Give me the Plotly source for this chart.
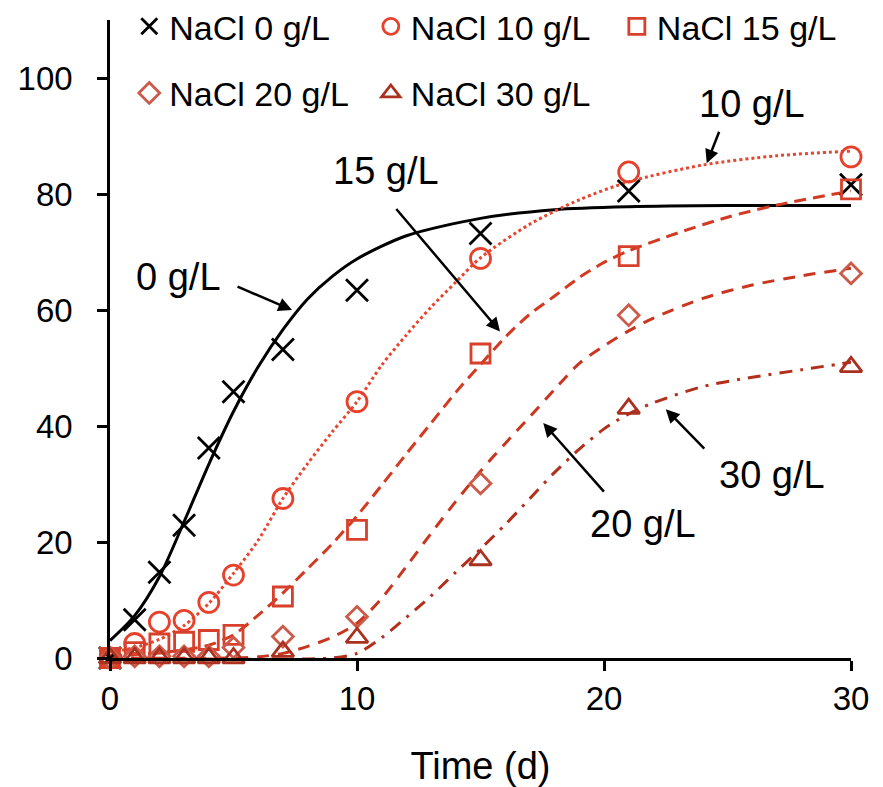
import plotly.graph_objects as go

# Observed data
t_obs = [0, 1, 2, 3, 4, 5, 7, 10, 15, 21, 30]
nacl0 = [0, 6.6, 14.8, 22.9, 36.2, 45.9, 53.2, 63.4, 73.2, 80.5, 81.6]
nacl10 = [0, 2.5, 6.2, 6.5, 9.6, 14.3, 27.5, 44.2, 68.9, 83.8, 86.4]
nacl15 = [0, 1.0, 2.5, 2.8, 3.1, 4.0, 10.6, 22.1, 52.5, 69.3, 80.8]
nacl20 = [0, 0.3, 0.3, 0.3, 0.3, 1.8, 3.7, 7.1, 30.1, 59.1, 66.3]
nacl30 = [0, 0, 0, 0, 0, 0, 1.1, 3.5, 16.9, 43.0, 50.2]

# Fitted curves
fit0_t = [0, 1, 2, 3, 4, 5, 6, 7, 8, 9, 10, 12, 15, 18, 21, 25, 30]
fit0_y = [3, 7.3, 14, 23.5, 33.4, 42.5, 50.2, 56.6, 61.9, 65.8, 68.8, 72.8, 75.8, 77.3, 77.8, 78, 78]

fit10_t = [0, 1, 2, 3, 4, 5, 6, 7, 8, 9, 10, 11, 12, 13, 14, 15, 17, 19, 21, 24, 27, 30]
fit10_y = [1.0, 1.8, 3.2, 5.6, 9.4, 14.6, 20.3, 27.5, 33.5, 39, 44.2, 50.5, 55.7, 60.5, 64.8, 69.0, 74.8, 79.0, 82.1, 85.0, 86.6, 87.4]

fit15_t = [0, 1, 2, 3, 4, 5, 6, 7, 8, 9, 10, 11, 12, 13, 14, 15, 16, 17, 18, 19, 20, 21, 23, 25, 27, 30]
fit15_y = [0.4, 0.6, 0.9, 1.4, 2.2, 4.0, 7.4, 11.2, 15.4, 19.7, 24.5, 29.8, 35.2, 40.5, 45.8, 50.6, 55.3, 59.3, 62.4, 65.6, 68.2, 70.2, 73.3, 76.0, 78.1, 80.5]

fit20_t = [0, 5, 6, 7, 8, 9, 10, 11, 12, 13, 14, 15, 16, 17, 18, 19, 20, 21, 22, 24, 26, 28, 30]
fit20_y = [0, 0, 0.2, 0.8, 2.0, 3.6, 6.0, 10.3, 15.8, 21.5, 27.0, 32.2, 37.0, 41.6, 46.3, 50.8, 53.8, 56.4, 58.6, 62.0, 64.3, 65.9, 67.2]

fit30_t = [0, 9, 10, 11, 12, 13, 14, 15, 16, 17, 18, 19, 20, 21, 22, 24, 26, 28, 30]
fit30_y = [0, 0, 0.8, 3.5, 7.0, 10.7, 14.8, 18.8, 23.0, 27.5, 32.0, 36.0, 39.5, 42.1, 44.0, 46.8, 48.4, 49.7, 51.0]

names = ["NaCl 0 g/L", "NaCl 10 g/L", "NaCl 15 g/L", "NaCl 20 g/L", "NaCl 30 g/L"]
labels = ["0 g/L", "10 g/L", "15 g/L", "20 g/L", "30 g/L"]
x_ticks = [0, 10, 20, 30]
y_ticks = [0, 20, 40, 60, 80, 100]

FONT = "Liberation Sans, Arial, sans-serif"
c0, c10, c15, c20, c30 = "#000000", "#E8412B", "#D7402B", "#CD5A48", "#AA301F"

fig = go.Figure()

# Fit lines
line_specs = [
    (fit0_t, fit0_y, c0, 3, "solid"),
    (fit10_t, fit10_y, "#E8452E", 3, "dot"),
    (fit15_t, fit15_y, "#D23A22", 3, "12px,7px"),
    (fit20_t, fit20_y, "#C8361F", 3, "12px,9px"),
    (fit30_t, fit30_y, "#B22F1C", 3, "13px,8px,3px,8px"),
]
for xs, ys, col, w, d in line_specs:
    fig.add_trace(go.Scatter(x=xs, y=ys, mode="lines",
                             line=dict(color=col, width=w, dash=d, shape="spline", smoothing=0.8),
                             showlegend=False, hoverinfo="skip"))

# Markers (each in its own legend box)
specs = [
    (nacl0, "x-thin-open", c0, 22),
    (nacl10, "circle-open", c10, 20),
    (nacl15, "square-open", c15, 19),
    (nacl20, "diamond-open", c20, 16),
    (nacl30, "triangle-up-open", c30, 19),
]
leg_ids = ["legend", "legend2", "legend3", "legend4", "legend5"]
for (vals, sym, col, sz), nm, lid in zip(specs, names, leg_ids):
    fig.add_trace(go.Scatter(
        x=t_obs, y=vals, mode="markers", name=nm, legend=lid,
        marker=dict(symbol=sym, size=sz, color=col, line=dict(color=col, width=2.8)),
        cliponaxis=False,
    ))

axis_common = dict(showline=True, linecolor="black", linewidth=2.5, ticks="outside",
                   ticklen=10, tickwidth=2.5, tickcolor="black", showgrid=False,
                   zeroline=False, tickfont=dict(family=FONT, size=33, color="black"))

leg_common = dict(orientation="h", xanchor="left", yanchor="middle",
                  font=dict(family=FONT, size=34, color="black"),
                  bgcolor="rgba(0,0,0,0)", itemsizing="trace")
leg_pos = [(0.026, 0.9895), (0.352, 0.9895), (0.684, 0.9895), (0.026, 0.885), (0.352, 0.885)]

layout_kwargs = dict(
    width=875, height=779,
    margin=dict(l=102, r=32, t=12, b=129, autoexpand=False),
    plot_bgcolor="white", paper_bgcolor="white",
    font=dict(family=FONT, color="black"),
    xaxis=dict(range=[0, 30], tickvals=x_ticks, ticklabelstandoff=0,
               title=dict(text="Time (d)", font=dict(family=FONT, size=38), standoff=40),
               **axis_common),
    yaxis=dict(range=[0, 110], tickvals=y_ticks, ticklabelstandoff=18, **axis_common),
)
for lid, (lx, ly) in zip(leg_ids, leg_pos):
    layout_kwargs[lid] = dict(x=lx, y=ly, **leg_common)
fig.update_layout(**layout_kwargs)

# Text labels
text_pos = {"0 g/L": (2.77, 65.7), "15 g/L": (11.18, 84.0), "10 g/L": (26.0, 95.6),
            "20 g/L": (21.57, 23.1), "30 g/L": (26.8, 31.5)}
for lab in labels:
    x, y = text_pos[lab]
    fig.add_annotation(x=x, y=y, xref="x", yref="y", text=lab, showarrow=False,
                       font=dict(family=FONT, size=38, color="black"))

# Arrows (tip in data coords, tail offset in px)
arrows = [(7.37, 60.0, -56, -24), (15.79, 56.3, -105, -124), (24.16, 85.3, 13, -33),
          (17.54, 40.5, 62, 70), (22.5, 42.9, 40, 41)]
for x, y, ax, ay in arrows:
    fig.add_annotation(x=x, y=y, xref="x", yref="y", ax=ax, ay=ay, text="",
                       showarrow=True, arrowhead=2, arrowsize=1.1, arrowwidth=2.5,
                       arrowcolor="black", standoff=0)

fig.write_html("out.html")
